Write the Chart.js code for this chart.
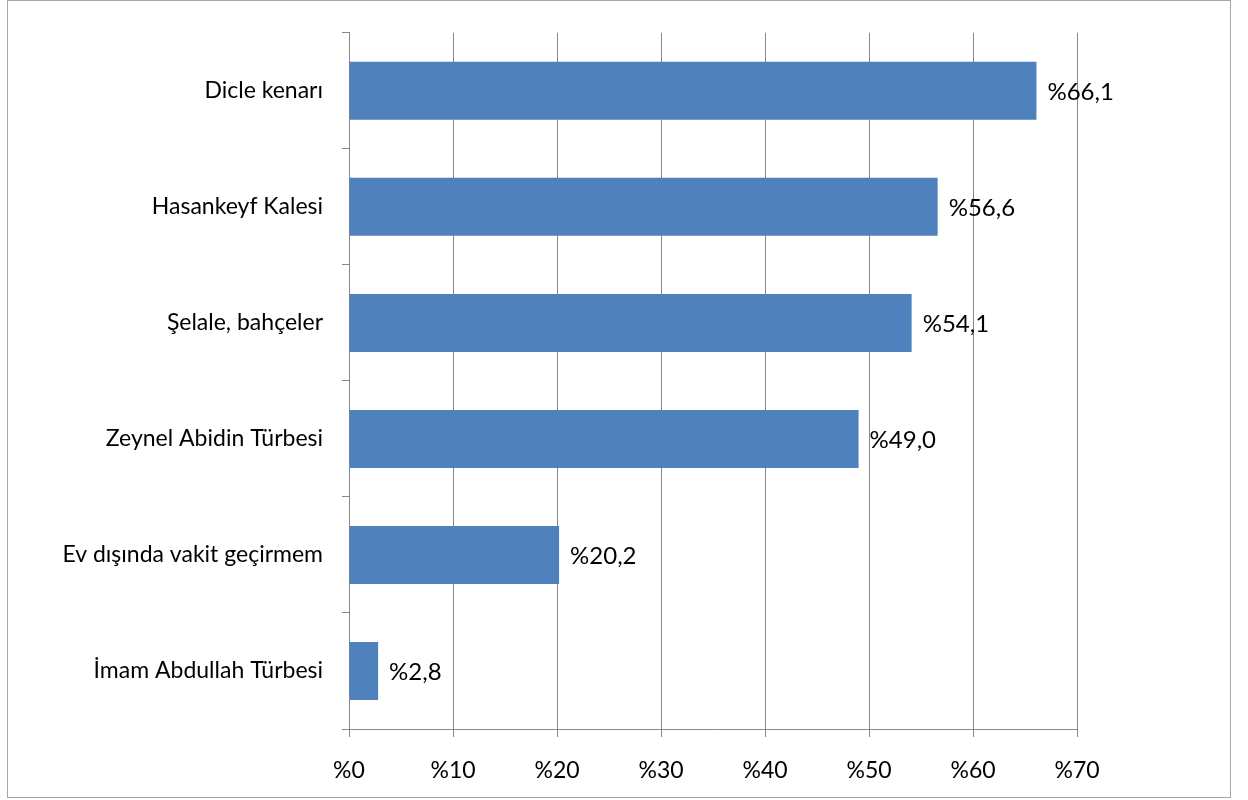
<!DOCTYPE html>
<html>
<head>
<meta charset="utf-8">
<script src="https://cdn.jsdelivr.net/npm/chart.js@4/dist/chart.umd.min.js"></script>
<style>
    body { margin: 0; background: #fff; }
    #frame { position: absolute; left: 7px; top: 0px; width: 1222px; height: 796px; border: 1px solid #a6a6a6; }
    #wrap { position: absolute; left: 0; top: 0; width: 1248px; height: 800px; }
</style>
</head>
<body>
<div id="frame"></div>
<div id="wrap"><canvas id="barChart" width="1248" height="800"></canvas></div>
<script>
var categories = ['Dicle kenarı', 'Hasankeyf Kalesi', 'Şelale, bahçeler', 'Zeynel Abidin Türbesi', 'Ev dışında vakit geçirmem', 'İmam Abdullah Türbesi'];
var values = [66.1, 56.6, 54.1, 49.0, 20.2, 2.8];
var tickLabels = ['%0', '%10', '%20', '%30', '%40', '%50', '%60', '%70'];

var fontFamily = 'Lato, "Open Sans", sans-serif';

function formatValue(v) {
    return '%' + v.toFixed(1).replace('.', ',');
}

// labels at the end of each bar
var valueLabels = {
    id: 'valueLabels',
    afterDatasetsDraw: function (chart) {
        var ctx = chart.ctx;
        var meta = chart.getDatasetMeta(0);
        ctx.save();
        ctx.font = '24px ' + fontFamily;
        ctx.fillStyle = '#000';
        ctx.textAlign = 'left';
        ctx.textBaseline = 'middle';
        meta.data.forEach(function (bar, i) {
            ctx.fillText(formatValue(values[i]), bar.x + 11, bar.y + 1);
        });
        ctx.restore();
    }
};

var barChartCanvas = document.getElementById('barChart').getContext('2d');

new Chart(barChartCanvas, {
    type: 'bar',
    data: {
        labels: categories,
        datasets: [
            {
                data: values,
                backgroundColor: '#4f81bd',
                borderWidth: 0,
                barPercentage: 0.5,
                categoryPercentage: 1.0
            }
        ]
    },
    options: {
        indexAxis: 'y',
        responsive: false,
        animation: false,
        layout: { padding: { top: 27, right: 171, left: 0, bottom: 0 } },
        plugins: {
            legend: { display: false },
            tooltip: { enabled: false }
        },
        scales: {
            x: {
                min: 0,
                max: 70,
                ticks: {
                    stepSize: 10,
                    color: '#000',
                    padding: 20,
                    font: { size: 23, family: fontFamily },
                    callback: function (value, index) { return tickLabels[index]; }
                },
                grid: { color: '#878787', lineWidth: 1, tickLength: 8, tickColor: '#878787' },
                border: { color: '#878787', width: 1 },
                afterFit: function (scale) { scale.height = 71; }
            },
            y: {
                offset: true,
                ticks: {
                    color: '#000',
                    padding: 19,
                    font: { size: 23, family: fontFamily }
                },
                grid: { offset: true, drawOnChartArea: false, tickLength: 7, tickColor: '#878787' },
                border: { color: '#878787', width: 1 },
                afterFit: function (scale) { scale.width = 349; }
            }
        }
    },
    plugins: [valueLabels]
});
</script>
</body>
</html>
